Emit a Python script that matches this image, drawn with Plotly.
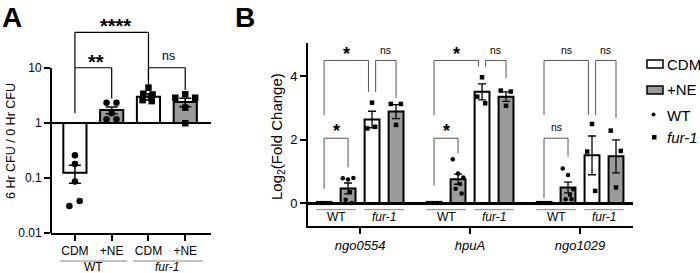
import numpy as np
import plotly.graph_objects as go

# ---------------- Panel A data ----------------
a_conditions = ["CDM", "+NE", "CDM", "+NE"]
a_strains = ["WT", "<i>fur-1</i>"]
a_means = [0.125, 1.72, 3.0, 2.4]
a_sem = [0.045, 0.24, 0.38, 0.42]
a_wt_cdm = [0.26, 0.18, 0.086, 0.031, 0.038]
a_wt_ne = [2.34, 2.34, 1.5, 1.17, 1.17]
a_fur_cdm = [4.4, 3.4, 3.3, 2.6, 2.5]
a_fur_ne = [2.88, 3.33, 2.88, 1.9, 0.99]

# ---------------- Panel B data ----------------
b_genes = ["ngo0554", "hpuA", "ngo1029"]
b_strains = ["WT", "<i>fur-1</i>"]
b_wt_cdm_mean = [0.0, 0.0, 0.0]
b_wt_ne_mean = [0.46, 0.75, 0.49]
b_fur_cdm_mean = [2.63, 3.5, 1.5]
b_fur_ne_mean = [2.88, 3.35, 1.47]
b_wt_cdm_sem = [0.0, 0.0, 0.0]
b_wt_ne_sem = [0.17, 0.16, 0.17]
b_fur_cdm_sem = [0.26, 0.25, 0.61]
b_fur_ne_sem = [0.22, 0.15, 0.52]
b_wt_cdm_pts = [[0, 0, 0, 0, 0, 0], [0, 0, 0, 0, 0, 0], [0, 0, 0, 0, 0, 0]]
b_wt_ne_pts = [[0.78, 0.74, 0.79, 0.35, 0.10, 0.0],
               [1.38, 0.93, 0.80, 0.60, 0.45, 0.30],
               [1.09, 0.88, 0.43, 0.25, 0.12, 0.12]]
b_fur_cdm_pts = [[3.16, 2.35, 2.40], [3.96, 3.35, 3.14], [2.49, 1.62, 0.38]]
b_fur_ne_pts = [[3.12, 3.12, 2.46], [3.54, 3.51, 3.06], [2.28, 1.64, 0.49]]

# statistics annotations
a_comparisons = [  # (left idx, right idx, top, left foot, right foot, label)
    (0, 1, 10.1, 1.5, 2.8, "**"),
    (0, 2, 44.6, 10.1, 4.0, "****"),
    (2, 3, 10.1, 6.0, 4.0, "ns"),
]
b_comparisons = [  # (gene, left bar, right bar, top, left foot, right foot, label)
    (0, 0, 2, 4.49, 2.77, 3.50, "*"), (0, 2, 3, 4.49, 3.50, 3.30, "ns"), (0, 0, 1, 2.04, 0.45, 1.12, "*"),
    (1, 0, 2, 4.49, 2.77, 4.29, "*"), (1, 2, 3, 4.49, 4.29, 3.93, "ns"), (1, 0, 1, 2.04, 0.55, 1.56, "*"),
    (2, 0, 2, 4.49, 2.77, 2.77, "ns"), (2, 2, 3, 4.49, 2.77, 2.67, "ns"), (2, 0, 1, 2.04, 0.15, 1.46, "ns"),
]

# ---------------- styling ----------------
W, H = 700, 273
FONT = "Liberation Sans, Arial, sans-serif"
GREY = "#9b9b9b"
A_JIT = [[0, 0, 0, -0.15, 0.13], [-0.14, 0.13, 0, -0.14, 0.13],
         [0, -0.14, 0.11, -0.16, 0.09], [-0.27, 0, 0.27, 0, 0]]
B_JIT = [[-0.27, -0.16, -0.05, 0.06, 0.17, 0.28], [-0.22, 0.0, 0.22, 0.08, -0.1, 0.15],
         [0.0, -0.2, 0.13], [-0.22, 0.2, 0.0]]
B_OFF = [-1.5, -0.5, 0.5, 1.5]
G = 110 / 24.0


def px(x):
    return x / W


def py(y):
    return 1 - y / H


def ann(**kw):
    d = dict(showarrow=False, xanchor="center", yanchor="middle")
    d.update(kw)
    return d


fig = go.Figure()

# ---- Panel A ----
a_x = np.arange(len(a_means))
a_fill = ["white", GREY, "white", GREY]
fig.add_trace(go.Bar(
    x=a_x, y=np.array(a_means) - 1, base=1, width=0.63,
    marker=dict(color=a_fill, line=dict(color="black", width=2)),
    error_y=dict(type="data", array=a_sem, color="black", thickness=1.5, width=6),
    xaxis="x", yaxis="y", showlegend=False, hoverinfo="skip"))
a_pts = [a_wt_cdm, a_wt_ne, a_fur_cdm, a_fur_ne]
a_sym = ["circle", "circle", "square", "square"]
for i, pts in enumerate(a_pts):
    fig.add_trace(go.Scatter(
        x=i + np.array(A_JIT[i]), y=pts, mode="markers",
        marker=dict(symbol=a_sym[i], size=6.5, color="black"),
        cliponaxis=False, xaxis="x", yaxis="y", showlegend=False))

# ---- Panel B ----
centers = np.arange(len(b_genes)) * G
b_means = [b_wt_cdm_mean, b_wt_ne_mean, b_fur_cdm_mean, b_fur_ne_mean]
b_sems = [b_wt_cdm_sem, b_wt_ne_sem, b_fur_cdm_sem, b_fur_ne_sem]
b_pts = [b_wt_cdm_pts, b_wt_ne_pts, b_fur_cdm_pts, b_fur_ne_pts]
b_fill = ["white", GREY, "white", GREY]
b_sym = ["circle", "circle", "square", "square"]
for k in range(4):
    fig.add_trace(go.Bar(
        x=centers + B_OFF[k], y=b_means[k], width=0.62,
        marker=dict(color=b_fill[k], line=dict(color="black", width=2)),
        error_y=dict(type="data", array=b_sems[k], color="black", thickness=1.3, width=4),
        xaxis="x2", yaxis="y2", showlegend=False, hoverinfo="skip"))
for k in range(4):
    xs, ys = [], []
    for g in range(len(b_genes)):
        for j, v in enumerate(b_pts[k][g]):
            xs.append(centers[g] + B_OFF[k] + B_JIT[k][j])
            ys.append(v)
    fig.add_trace(go.Scatter(
        x=xs, y=ys, mode="markers",
        marker=dict(symbol=b_sym[k], size=4.5, color="black"),
        cliponaxis=False, xaxis="x2", yaxis="y2", showlegend=False))

shapes = []
annots = []

# A y-axis line (0.01 .. 10) and reference line at 1
shapes.append(dict(type="line", xref="paper", yref="y", x0=px(51), x1=px(51), y0=0.01, y1=10,
                   line=dict(color="black", width=2)))
shapes.append(dict(type="line", xref="x domain", yref="y", x0=0, x1=1, y0=1, y1=1,
                   line=dict(color="black", width=2)))

# A brackets
for (l, r, top, yl, yr, lab) in a_comparisons:
    for (x0, y0, x1, y1) in [(l, yl, l, top), (l, top, r, top), (r, top, r, yr)]:
        shapes.append(dict(type="line", xref="x", yref="y", x0=x0, x1=x1, y0=y0, y1=y1,
                           line=dict(color="black", width=1.2)))
    star = lab.startswith("*")
    annots.append(ann(xref="x", yref="y",
                      x=(l + r) / 2 + (0.1 if lab == "****" else 0.06 if lab == "**" else 0.05),
                      y=np.log10(top), text=("<b>%s</b>" % lab) if star else lab,
                      font=dict(size=20 if star else 12.5, family=FONT),
                      yshift=6 if star else 11.5))

# A group labels
for s, (x0, x1) in enumerate([(-0.41, 1.42), (1.58, 3.49)]):
    shapes.append(dict(type="line", xref="x", yref="paper", x0=x0, x1=x1, y0=py(261), y1=py(261),
                       line=dict(color="#888888", width=1)))
    annots.append(ann(xref="x", yref="paper", x=2 * s + 0.5, y=py(267), text=a_strains[s],
                      font=dict(size=12, family=FONT)))

# B brackets
for (g, l, r, top, yl, yr, lab) in b_comparisons:
    xl = centers[g] + B_OFF[l] + (0.15 if (l == 2 and top > 4) else 0)
    xr = centers[g] + B_OFF[r] - (0.15 if (r == 2) else 0)
    for (x0, y0, x1, y1) in [(xl, yl, xl, top), (xl, top, xr, top), (xr, top, xr, yr)]:
        shapes.append(dict(type="line", xref="x2", yref="y2", x0=x0, x1=x1, y0=y0, y1=y1,
                           line=dict(color="#555555", width=1)))
    star = lab.startswith("*")
    annots.append(ann(xref="x2", yref="y2", x=(xl + xr) / 2, y=top,
                      text=("<b>%s</b>" % lab) if star else lab,
                      font=dict(size=18 if star else 10.5, family=FONT),
                      yshift=(6.5 if star else 10) if top > 4 else (7 if star else 11.5)))

# B strain sub-labels
for g in range(len(b_genes)):
    for s in range(2):
        c = centers[g] + (-1 if s == 0 else 1)
        shapes.append(dict(type="line", xref="x2", yref="y2", x0=c - 0.83, x1=c + 0.83, y0=-0.21, y1=-0.21,
                           line=dict(color="#888888", width=1)))
        annots.append(ann(xref="x2", yref="y2", x=c, y=-0.45, text=b_strains[s],
                          font=dict(size=12, family=FONT)))

# Legend (panel B)
shapes.append(dict(type="rect", xref="paper", yref="paper", x0=px(647), x1=px(663), y0=py(68), y1=py(60),
                   line=dict(color="black", width=1.5), fillcolor="white"))
shapes.append(dict(type="rect", xref="paper", yref="paper", x0=px(647), x1=px(663), y0=py(94), y1=py(86),
                   line=dict(color="black", width=1.5), fillcolor=GREY))
shapes.append(dict(type="circle", xref="paper", yref="paper", x0=px(651.5), x1=px(655.5), y0=py(116.5), y1=py(112.5),
                   line=dict(width=0), fillcolor="black"))
shapes.append(dict(type="rect", xref="paper", yref="paper", x0=px(652), x1=px(656.5), y0=py(139.5), y1=py(135),
                   line=dict(width=0), fillcolor="black"))
for txt, yy in [("CDM", 64), ("+NE", 90), ("WT", 115), ("<i>fur-1</i>", 137)]:
    annots.append(ann(xref="paper", yref="paper", x=px(665), y=py(yy), text=txt, xanchor="left",
                      font=dict(size=15, family=FONT)))

# Axis titles and panel letters
annots.append(ann(xref="paper", yref="paper", x=px(11), y=py(141), text="6 Hr CFU / 0 Hr CFU",
                  textangle=-90, font=dict(size=12.5, family=FONT)))
annots.append(ann(xref="paper", yref="paper", x=px(277), y=py(137), text="Log<sub>2</sub>(Fold Change)",
                  textangle=-90, font=dict(size=15, family=FONT)))
annots.append(ann(xref="paper", yref="paper", x=px(0), y=1, text="<b>A</b>", xanchor="left", yanchor="top",
                  font=dict(size=28, family=FONT)))
annots.append(ann(xref="paper", yref="paper", x=px(233), y=1, text="<b>B</b>", xanchor="left", yanchor="top",
                  font=dict(size=28, family=FONT)))

fig.update_layout(
    template="none",
    width=W, height=H, margin=dict(l=0, r=0, t=0, b=0, pad=0), autosize=False,
    paper_bgcolor="white", plot_bgcolor="rgba(0,0,0,0)",
    font=dict(family=FONT, color="black", size=12),
    barmode="overlay", showlegend=False,
    shapes=shapes, annotations=annots,
    xaxis=dict(domain=[px(51), px(211)], range=[-0.65, 3.7], anchor="y", automargin=False,
               showline=True, linecolor="black", linewidth=2, ticks="outside", ticklen=6, tickwidth=1.5,
               tickcolor="black", tickvals=list(a_x), ticktext=a_conditions, showgrid=False, zeroline=False,
               tickfont=dict(size=12)),
    yaxis=dict(type="log", domain=[py(233), py(20)], range=[-2, -2 + (233 - 20) / 55.0], anchor="x",
               automargin=False,
               showline=False, ticks="outside", ticklen=6, tickwidth=1.5, tickcolor="black",
               tickvals=[0.01, 0.1, 1, 10], ticktext=["0.01", "0.1", "1", "10"], showgrid=False,
               zeroline=False, tickfont=dict(size=12)),
    xaxis2=dict(domain=[px(308), px(633)], range=[-2.17, 11.375], anchor="y2", automargin=False,
                showline=True, linecolor="black", linewidth=2, ticks="outside", ticklen=6, tickwidth=1.5,
                tickcolor="black", tickvals=list(centers), ticktext=["<i>%s</i>" % g for g in b_genes],
                showgrid=False, zeroline=False, tickfont=dict(size=13)),
    yaxis2=dict(domain=[py(226), py(43)], range=[-(226 - 203) / 31.75, (203 - 43) / 31.75], anchor="x2",
                automargin=False,
                showline=True, linecolor="black", linewidth=2, ticks="outside", ticklen=6, tickwidth=1.5,
                tickcolor="black", tickvals=[0, 2, 4], showgrid=False,
                zeroline=True, zerolinecolor="black", zerolinewidth=2.5, tickfont=dict(size=13)),
)

fig.write_html("out.html")
